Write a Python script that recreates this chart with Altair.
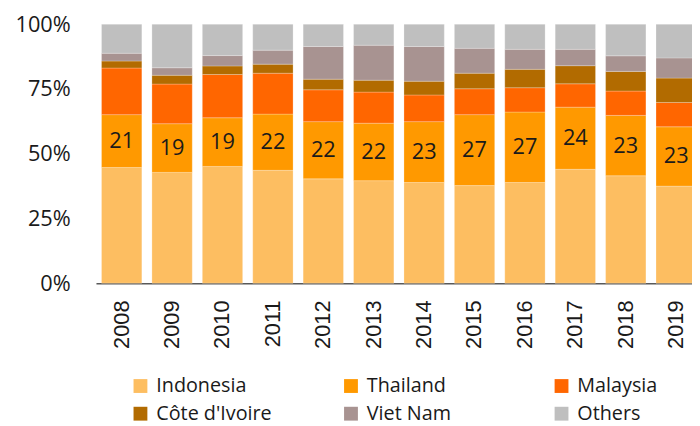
import altair as alt
import pandas as pd

years = ["2008", "2009", "2010", "2011", "2012", "2013", "2014", "2015", "2016", "2017", "2018", "2019"]
countries = ["Indonesia", "Thailand", "Malaysia", "Côte d'Ivoire", "Viet Nam", "Others"]
colors = ["#FDBE61", "#FF9900", "#FF6600", "#B26B00", "#A89391", "#BFBFBF"]

indonesia = [44.7, 42.8, 45.1, 43.6, 40.3, 39.6, 38.9, 37.7, 38.9, 44.0, 41.5, 37.5]
thailand = [20.4, 18.8, 18.8, 21.7, 22.1, 22.2, 23.5, 27.4, 27.2, 24.0, 23.3, 22.9]
malaysia = [18.0, 15.3, 16.7, 15.8, 12.3, 12.0, 10.3, 10.0, 9.4, 9.0, 9.4, 9.4]
cote_divoire = [2.7, 3.4, 3.3, 3.5, 4.1, 4.6, 5.3, 6.0, 7.1, 7.0, 7.6, 9.4]
viet_nam = [3.0, 2.9, 4.0, 5.4, 12.6, 13.5, 13.4, 9.6, 7.7, 6.3, 6.0, 7.8]
others = [11.2, 16.8, 12.1, 10.0, 8.6, 8.1, 8.6, 9.3, 9.7, 9.7, 12.2, 13.0]
thailand_labels = ["21", "19", "19", "22", "22", "22", "23", "27", "27", "24", "23", "23"]

series = [indonesia, thailand, malaysia, cote_divoire, viet_nam, others]
rows = []
for ci, (name, vals) in enumerate(zip(countries, series)):
    for yi, y in enumerate(years):
        rows.append({
            "year": y,
            "country": name,
            "value": vals[yi],
            "order": ci,
            "label": thailand_labels[yi] if name == "Thailand" else "",
        })
df = pd.DataFrame(rows)

FONT = "Open Sans"

x_enc = alt.X(
    "year:N",
    sort=years,
    title=None,
    scale=alt.Scale(paddingInner=0.2, paddingOuter=0.11),
    axis=alt.Axis(
        labelAngle=-90,
        labelFont="Liberation Sans",
        labelFontSize=22,
        labelColor="#1a1a1a",
        labelPadding=17,
        ticks=False,
        domainColor="#595959",
        domainWidth=1.5,
        grid=False,
    ),
)

bars = alt.Chart(df).mark_bar(stroke="white", strokeWidth=0.4, strokeOpacity=0.6).encode(
    x=x_enc,
    y=alt.Y(
        "value:Q",
        stack="normalize",
        title=None,
        scale=alt.Scale(domain=[0, 1], nice=False),
        axis=alt.Axis(
            values=[0, 0.25, 0.5, 0.75, 1],
            format=".0%",
            labelFont=FONT,
            labelFontSize=22,
            labelColor="#1a1a1a",
            labelPadding=26,
            ticks=False,
            domain=False,
            grid=False,
        ),
    ),
    color=alt.Color(
        "country:N",
        sort=countries,
        scale=alt.Scale(domain=countries, range=colors),
        legend=alt.Legend(
            title=None,
            orient="none",
            direction="horizontal",
            legendX=35,
            legendY=356,
            columns=3,
            gridAlign="all",
            columnPadding=70,
            rowPadding=8,
            symbolType="square",
            symbolSize=196,
            symbolStrokeWidth=0,
            symbolOpacity=1,
            labelFont=FONT,
            labelFontSize=20,
            labelColor="#1a1a1a",
            labelOffset=6,
            labelLimit=300,
        ),
    ),
    order=alt.Order("order:Q", sort="ascending"),
)

text = (
    alt.Chart(df)
    .transform_joinaggregate(total="sum(value)", groupby=["year"])
    .transform_stack(
        stack="value",
        groupby=["year"],
        as_=["v0", "v1"],
        sort=[alt.SortField("order", order="ascending")],
    )
    .transform_filter("datum.country === 'Thailand'")
    .transform_calculate(mid="(datum.v0 + datum.v1) / 2 / datum.total")
    .mark_text(font=FONT, fontSize=22, color="#1a1a1a", baseline="middle", align="center")
    .encode(
        x=alt.X("year:N", sort=years),
        y=alt.Y("mid:Q"),
        text="label:N",
    )
)

chart = (
    alt.layer(bars, text)
    .properties(
        width=613,
        height=262,
        autosize=alt.AutoSizeParams(type="none"),
        padding={"left": 89, "top": 14, "right": -10, "bottom": 142},
    )
    .configure_view(stroke=None)
)

chart.save("out.html", embed_options={"renderer": "svg", "actions": False})
